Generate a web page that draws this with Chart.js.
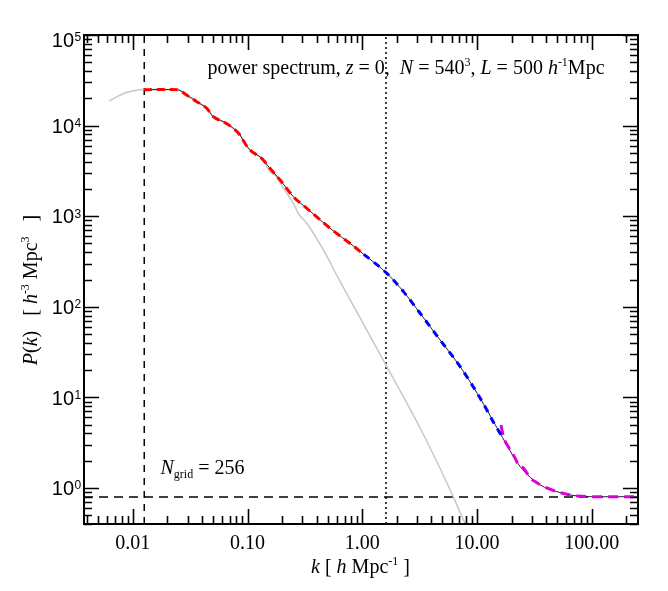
<!DOCTYPE html>
<html>
<head>
<meta charset="utf-8">
<script src="https://cdn.jsdelivr.net/npm/chart.js@4.4.1/dist/chart.umd.min.js"></script>
<style>
  html, body { margin: 0; padding: 0; background: #fff; }
  canvas { display: block; }
</style>
</head>
<body>
<canvas id="pk" width="668" height="591"></canvas>
<script>
// k en h/Mpc, P(k) en (Mpc/h)^3

// espectro lineal (gris)
const kLinear = [0.0062, 0.0085, 0.0105, 0.01247, 0.0172, 0.0244, 0.0294, 0.036, 0.044, 0.0502,
  0.0614, 0.075, 0.0859, 0.0948, 0.105, 0.1327, 0.1566, 0.1795, 0.205, 0.2506, 0.2766, 0.328,
  0.458, 0.619, 0.957, 1.636, 3.19, 5.84, 7.62, 9.0];
const pLinear = [18700, 22900, 24400, 25000, 25100, 24900, 21770, 18360, 15520, 12540,
  11040, 9340, 7870, 6380, 5380, 4355, 3100, 2730, 2050, 1388, 1077, 835,
  424, 206, 75.2, 21.8, 4.59, 0.95, 0.444, 0.295];

// espectro no lineal (negro, fino)
const kNonlin = [0.01247, 0.0172, 0.0244, 0.0294, 0.036, 0.044, 0.0502, 0.0614, 0.075, 0.0859,
  0.0948, 0.105, 0.1327, 0.1566, 0.192, 0.2506, 0.328, 0.524, 0.836, 1.03, 1.094, 1.636,
  2.285, 3.19, 4.77, 7.13, 10.66, 15.9, 23.8, 35.6, 49.8, 74.4, 127, 250];
const pNonlin = [24900, 25000, 24900, 21770, 18360, 15520, 12540, 11040, 9340, 7870,
  6380, 5380, 4355, 3380, 2510, 1641, 1222, 735, 469, 379, 357, 234,
  147, 84.8, 43.0, 21.8, 9.77, 4.01, 1.72, 1.08, 0.91, 0.816, 0.80, 0.80];

// malla gruesa (rojo)
const kLow = [0.01247, 0.0172, 0.0244, 0.0294, 0.036, 0.044, 0.0502, 0.0614, 0.075, 0.0859,
  0.0948, 0.105, 0.1327, 0.1566, 0.192, 0.2506, 0.328, 0.524, 0.836, 1.03];
const pLow = [24900, 25000, 24900, 21770, 18360, 15520, 12540, 11040, 9340, 7870,
  6380, 5380, 4355, 3380, 2510, 1641, 1222, 735, 469, 379];

// primer plegado (azul)
const kMid = [1.03, 1.094, 1.636, 2.285, 3.19, 4.77, 7.13, 10.66, 15.9, 16.5];
const pMid = [379, 357, 234, 147, 84.8, 43.0, 21.8, 9.77, 4.01, 3.78];

// segundo plegado (magenta)
const kHigh = [16.17, 17.0, 19.5, 21.5, 23.0, 25.5, 29.1, 33.3, 35.6, 49.8, 74.4, 127, 250];
const pHigh = [4.96, 3.68, 2.63, 2.13, 1.79, 1.65, 1.29, 1.14, 1.08, 0.91, 0.816, 0.80, 0.80];

const kFund = 0.01257;   // 2*pi/L
const kNyq = 1.608;      // Nyquist de la malla 256
const pShot = 0.794;     // ruido de Poisson

const kMin = 0.00375, kMax = 253;
const pMin = 0.4, pMax = 1e5;
const kTicks = [0.01, 0.1, 1, 10, 100];
const kTickLabels = ['0.01', '0.10', '1.00', '10.00', '100.00'];
const pTicks = [1, 10, 100, 1000, 10000, 100000];
const pTickExp = ['0', '1', '2', '3', '4', '5'];

function pts(ks, ps) {
  return ks.map((k, i) => ({ x: k, y: ps[i] }));
}

// texto con cursiva / superindice / subindice
function drawRich(ctx, segs, x, y, size, align) {
  const parts = segs.map(s => {
    const small = s.sup || s.sub;
    const fs = small ? Math.round(size * 0.6) : size;
    const font = (s.it ? 'italic ' : '') + fs + 'px "Liberation Serif"';
    ctx.font = font;
    return {
      t: s.t, font: font, w: ctx.measureText(s.t).width,
      dy: s.sup ? -size * 0.38 : (s.sub ? size * 0.2 : 0)
    };
  });
  const total = parts.reduce((a, p) => a + p.w, 0);
  let cx = align === 'center' ? x - total / 2 : x;
  ctx.textAlign = 'left';
  ctx.textBaseline = 'alphabetic';
  parts.forEach(p => {
    ctx.font = p.font;
    ctx.fillText(p.t, cx, y + p.dy);
    cx += p.w;
  });
}

function minorValues(min, max) {
  const out = [];
  for (let d = Math.floor(Math.log10(min)); d <= Math.ceil(Math.log10(max)); d++) {
    for (let m = 2; m <= 9; m++) {
      const v = m * Math.pow(10, d);
      if (v >= min && v <= max) out.push(v);
    }
  }
  return out;
}

const axesPlugin = {
  id: 'idlAxes',
  afterDraw(chart) {
    const ctx = chart.ctx;
    const a = chart.chartArea;
    const xs = chart.scales.x, ys = chart.scales.y;
    ctx.save();
    ctx.strokeStyle = '#000';
    ctx.fillStyle = '#000';

    // ticks hacia dentro en los cuatro lados
    ctx.lineWidth = 1.6;
    ctx.beginPath();
    const tickX = (v, len) => {
      const px = Math.round(xs.getPixelForValue(v)) + 0.5;
      ctx.moveTo(px, a.bottom); ctx.lineTo(px, a.bottom - len);
      ctx.moveTo(px, a.top); ctx.lineTo(px, a.top + len);
    };
    const tickY = (v, len) => {
      const py = Math.round(ys.getPixelForValue(v)) + 0.5;
      ctx.moveTo(a.left, py); ctx.lineTo(a.left + len, py);
      ctx.moveTo(a.right, py); ctx.lineTo(a.right - len, py);
    };
    kTicks.forEach(v => tickX(v, 15));
    minorValues(kMin, kMax).forEach(v => tickX(v, 8));
    pTicks.forEach(v => tickY(v, 15));
    minorValues(pMin, pMax).forEach(v => tickY(v, 8));
    ctx.stroke();

    // marco
    ctx.lineWidth = 2;
    ctx.strokeRect(a.left, a.top, a.right - a.left, a.bottom - a.top);

    // etiquetas del eje x
    ctx.font = '20px "Liberation Serif"';
    ctx.textAlign = 'center';
    ctx.textBaseline = 'alphabetic';
    kTicks.forEach((v, i) => {
      ctx.fillText(kTickLabels[i], xs.getPixelForValue(v), 549);
    });

    // etiquetas del eje y: 10^n
    pTicks.forEach((v, i) => {
      let py = ys.getPixelForValue(v);
      py = Math.max(py, a.top + 4.5);
      ctx.font = '20px "Liberation Sans"';
      ctx.textAlign = 'right';
      ctx.fillText('10', 74, py + 7.3);
      ctx.font = '12px "Liberation Sans"';
      ctx.textAlign = 'left';
      ctx.fillText(pTickExp[i], 74.5, py + 1.5);
    });

    // titulos
    drawRich(ctx, [
      { t: 'power spectrum, ' }, { t: 'z', it: true }, { t: ' = 0,  ' },
      { t: 'N', it: true }, { t: ' = 540' }, { t: '3', sup: true }, { t: ', ' },
      { t: 'L', it: true }, { t: ' = 500 ' }, { t: 'h', it: true }, { t: '-1', sup: true },
      { t: 'Mpc' }
    ], 207.5, 73.5, 20, 'left');

    drawRich(ctx, [
      { t: 'N', it: true }, { t: 'grid', sub: true }, { t: ' = 256' }
    ], 160.5, 473.5, 20, 'left');

    drawRich(ctx, [
      { t: 'k', it: true }, { t: ' [ ' }, { t: 'h', it: true }, { t: ' Mpc' },
      { t: '-1', sup: true }, { t: ' ]' }
    ], 360.5, 573, 20, 'center');

    ctx.translate(37, 290);
    ctx.rotate(-Math.PI / 2);
    drawRich(ctx, [
      { t: 'P', it: true }, { t: '(' }, { t: 'k', it: true }, { t: ')   [ ' },
      { t: 'h', it: true }, { t: '-3', sup: true }, { t: ' Mpc' }, { t: '3', sup: true },
      { t: '   ]' }
    ], 0, 0, 20, 'center');

    ctx.restore();
  }
};

const curve = { pointRadius: 0, fill: false, cubicInterpolationMode: 'monotone' };
const refLine = { pointRadius: 0, fill: false, tension: 0, borderColor: '#000', borderWidth: 1.5 };

const ctx = document.getElementById('pk').getContext('2d');
new Chart(ctx, {
  type: 'line',
  data: {
    datasets: [
      Object.assign({ data: pts(kLow, pLow), borderColor: '#ff0000', borderWidth: 3, borderDash: [8, 5] }, curve),
      Object.assign({ data: pts(kMid, pMid), borderColor: '#0000ff', borderWidth: 3, borderDash: [7, 6] }, curve),
      Object.assign({ data: pts(kHigh, pHigh), borderColor: '#dd00dd', borderWidth: 3, borderDash: [10, 6] }, curve),
      Object.assign({ data: pts(kNonlin, pNonlin), borderColor: '#222', borderWidth: 1 }, curve),
      Object.assign({ data: pts(kLinear, pLinear), borderColor: '#c8c8c8', borderWidth: 1.5 }, curve),
      Object.assign({ data: [{ x: kMin, y: pShot }, { x: kMax, y: pShot }], borderDash: [9, 6] }, refLine),
      Object.assign({ data: [{ x: kFund, y: pMin }, { x: kFund, y: pMax }], borderDash: [7, 6] }, refLine),
      Object.assign({ data: [{ x: kNyq, y: pMin }, { x: kNyq, y: pMax }], borderDash: [2, 3] }, refLine)
    ]
  },
  options: {
    responsive: false,
    animation: false,
    devicePixelRatio: 1,
    layout: { padding: { left: 84, right: 30, top: 35, bottom: 67 } },
    plugins: { legend: { display: false }, tooltip: { enabled: false } },
    scales: {
      x: { type: 'logarithmic', min: kMin, max: kMax, display: false },
      y: { type: 'logarithmic', min: pMin, max: pMax, display: false }
    }
  },
  plugins: [axesPlugin]
});
</script>
</body>
</html>
